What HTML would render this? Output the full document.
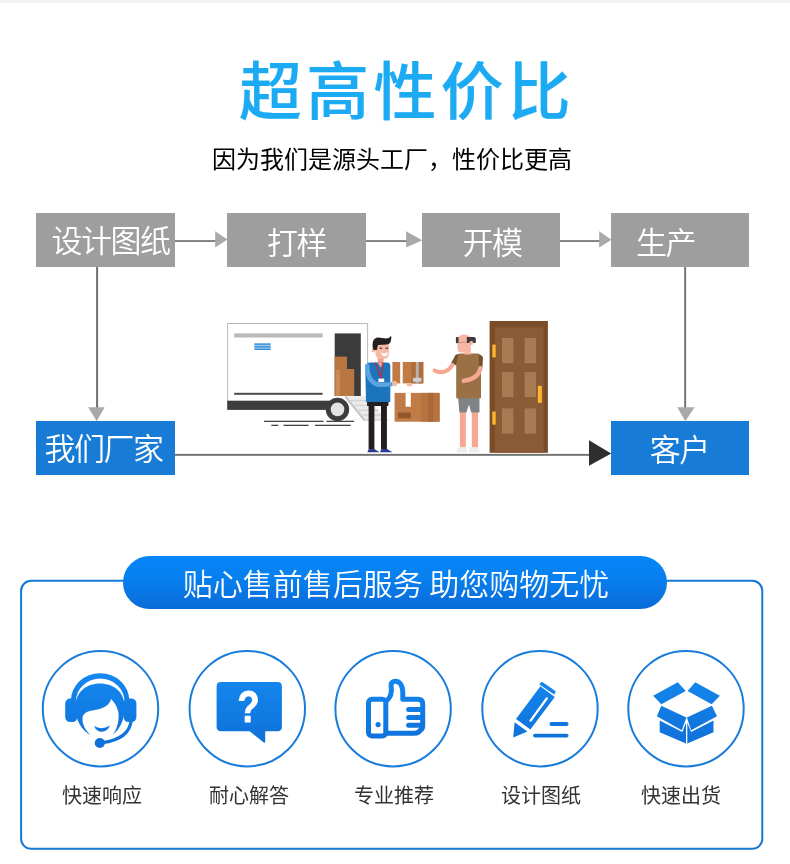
<!DOCTYPE html>
<html lang="zh-CN">
<head>
<meta charset="utf-8">
<title>超高性价比</title>
<style>
html,body{margin:0;padding:0;background:#fff;}
body{width:790px;height:864px;position:relative;overflow:hidden;font-family:"Liberation Sans","Noto Sans CJK SC",sans-serif;}
.abs{position:absolute;}
#topbar{left:0;top:0;width:790px;height:3px;background:#f3f3f3;}
#gfx{left:0;top:0;width:790px;height:864px;will-change:transform;}
.t{position:absolute;white-space:nowrap;line-height:1;will-change:transform;}
#title{left:238.9px;top:60.5px;font-size:63px;font-weight:500;color:#1cabf3;letter-spacing:4.2px;-webkit-text-stroke:0.2px #1cabf3;}
#sub{left:212.4px;top:148px;font-size:24px;color:#000;}
.fb{position:absolute;height:54px;line-height:54px;color:#fff;font-size:31px;font-weight:350;letter-spacing:-1.5px;text-align:center;white-space:nowrap;will-change:transform;}
.fb span{position:relative;display:inline-block;line-height:54px;}
.g{background:#9e9e9e;}
.b{background:#187bd6;}
#pill{will-change:transform;left:123px;top:556px;width:544px;height:53px;border-radius:27px;background:linear-gradient(#0686f8 0%,#0780f0 40%,#0a6bd8 100%);color:#fff;font-size:30px;font-weight:350;text-align:center;line-height:58px;white-space:nowrap;word-spacing:-2px;box-sizing:border-box;padding-left:2px;}
.lab{will-change:transform;position:absolute;top:785px;width:120px;text-align:center;font-size:20px;color:#333;line-height:22px;white-space:nowrap;}
</style>
</head>
<body>
<div id="topbar" class="abs"></div>
<svg id="gfx" class="abs" width="790" height="864" viewBox="0 0 790 864">
<!-- flow connectors -->
<g id="flow">
<rect x="175" y="240.2" width="41" height="1.7" fill="#707070"/>
<polygon points="215.2,231.3 227.5,239.6 215.2,247.6" fill="#a9a9a9"/>
<rect x="366" y="240.2" width="41" height="1.7" fill="#707070"/>
<polygon points="406.1,231.3 422.3,240.2 406.1,247.6" fill="#a9a9a9"/>
<rect x="560" y="240.2" width="40" height="1.7" fill="#707070"/>
<polygon points="599.2,231.3 611.4,239.8 599.2,247.6" fill="#a9a9a9"/>
<rect x="96.1" y="267" width="2" height="141" fill="#707070"/>
<polygon points="88.2,407.3 104.6,407.3 96.7,421.2" fill="#a9a9a9"/>
<rect x="684.2" y="267" width="1.9" height="141" fill="#707070"/>
<polygon points="677.3,407.3 694.6,407.3 685.3,421.2" fill="#a9a9a9"/>
<rect x="175" y="453.9" width="415" height="1.9" fill="#707070"/>
<polygon points="589,440.3 611.2,453.6 589,465.7" fill="#2e2e2e"/>
</g>

<!-- illustration -->
<g id="ill">
<!-- ground lines -->
<g fill="#454545">
<rect x="264" y="420.7" width="59.6" height="1.3"/><rect x="326.4" y="420.7" width="27.8" height="1.3"/>
<rect x="271.3" y="424.7" width="7" height="1.3"/><rect x="283.5" y="424.7" width="25.1" height="1.3"/><rect x="314.9" y="424.7" width="35.8" height="1.3"/>
</g>
<!-- ramp -->
<!-- truck -->
<path d="M227.6,401 V323.5 H367.6 V396.2" fill="#fff" stroke="#a4a4a4" stroke-width="0.8"/>
<rect x="234.2" y="333.4" width="88.4" height="4.1" fill="#b9b9b9"/>
<rect x="254.4" y="343.4" width="16.2" height="6.6" fill="#9fcbee"/>
<path d="M254.4,344.2 H270.6 M254.4,346.8 H270.6 M254.4,349.4 H270.6" stroke="#2f8cd8" stroke-width="1.2" fill="none"/>
<rect x="234.2" y="392.8" width="88.4" height="2" fill="#4a4a4a"/>
<rect x="334.7" y="333.4" width="26.1" height="62.6" fill="#3b3b3b"/>
<rect x="334.7" y="356.6" width="12.3" height="39.4" fill="#b97641"/>
<rect x="347" y="369" width="7.2" height="27" fill="#b97641"/>
<rect x="335.8" y="370" width="4.2" height="26" fill="#c98a56"/>
<polygon points="344.6,396.2 365.6,396.2 388,420.8 364,420.8" fill="#ebebeb"/>
<path d="M345.2,396.4 L364.6,420.2" stroke="#c6c6c6" stroke-width="2.2" fill="none"/>
<path d="M350,400.6 H369.6 M354.6,405.4 H374 M359,410.2 H378.4 M363,415 H382.8 M364,420 H388" stroke="#d4d4d4" stroke-width="1.4" fill="none"/>
<rect x="227.2" y="400.7" width="106" height="9.2" fill="#3d3d3d"/>
<circle cx="337.5" cy="409.4" r="11.7" fill="#3d3d3d"/>
<circle cx="337.5" cy="409.4" r="6.8" fill="#e3e3e3"/>
<!-- boxes -->
<rect x="392.4" y="362" width="7.8" height="21.4" fill="#c07b46"/>
<rect x="402.7" y="362" width="20.6" height="21.4" fill="#c07b46"/>
<rect x="411.3" y="362" width="12" height="21.4" fill="#b06d3a"/>
<rect x="415.8" y="362" width="2.9" height="21.4" fill="#b4b4b4"/>
<rect x="413" y="377.8" width="8.5" height="4" fill="#cfcfcf"/>
<rect x="394.6" y="392.9" width="45" height="28.8" fill="#c07b46"/>
<rect x="421" y="392.9" width="18.6" height="28.8" fill="#b87240"/>
<rect x="428.3" y="392.9" width="4.8" height="28.8" fill="#a9683a"/>
<rect x="405.6" y="392.9" width="5.2" height="13.8" fill="#fff"/>
<rect x="398" y="412.6" width="12.8" height="5.7" fill="#91582b"/>
<!-- delivery man -->
<rect x="368.6" y="403" width="5.8" height="46.5" fill="#231f20"/>
<rect x="381" y="403" width="5.9" height="46.5" fill="#231f20"/>
<rect x="367" y="401.5" width="21.5" height="4.5" rx="1" fill="#231f20"/>
<path d="M367.6,452.3 Q367.6,449 371,449 H374.4 L379.5,452.3 Z" fill="#2b3990"/>
<path d="M380.2,452.3 Q380.2,449 383.6,449 H387 L392.5,452.3 Z" fill="#2b3990"/>
<rect x="377.6" y="354" width="6" height="10" fill="#f0a590"/>
<path d="M365.3,368 Q365.3,362.5 371,362.5 H387 Q390.3,362.5 390.3,366 V402.1 H366 Z" fill="#1c75bc"/>
<path d="M377.4,362.5 L380.6,367.5 L383.8,362.5 Z" fill="#f0a590"/>
<path d="M375.2,362.6 L381,378.4 L383,362.6" stroke="#d0232e" stroke-width="1.2" fill="none"/>
<path d="M367.2,366 C367.2,377 372,384.8 380.5,384.8 L391,384.2" stroke="#5ba4e0" stroke-width="4.6" fill="none" stroke-linecap="round"/>
<rect x="378.4" y="378.6" width="5.8" height="3.4" fill="#fff"/>

<circle cx="394.6" cy="383.6" r="2.6" fill="#f6b9a5"/>
<ellipse cx="409.5" cy="385" rx="3" ry="1.4" fill="#f6b9a5"/>
<circle cx="373.4" cy="350.6" r="1.9" fill="#f6b9a5"/>
<path d="M375.4,343 H389 V352.5 Q389,358.8 384,358.8 H381 Q375.4,358.8 375.4,353 Z" fill="#f6b9a5"/>
<path d="M373,349.8 Q371,338 378,337.6 L386,338.6 Q389.4,338.6 391.2,335.8 Q392,343.8 387,344.6 L378,345 L376.8,350 Z" fill="#231f20"/>
<path d="M379.6,348.2 H382.2 M385.4,348.2 H388" stroke="#231f20" stroke-width="1" fill="none"/>
<path d="M381.2,352.8 Q384.6,354 388,352.2 Q387,356.6 384.4,356.6 Q382.2,356.6 381.2,352.8 Z" fill="#fff"/>
<!-- customer -->
<rect x="459.9" y="410" width="5.9" height="37.5" fill="#f7a792"/>
<rect x="471.8" y="410" width="6.3" height="37.5" fill="#f7a792"/>
<path d="M456.4,452.6 Q456.4,447.3 461,447.3 H466.8 V452.6 Z" fill="#ededed"/>
<path d="M469.4,452.6 V447.3 H475 Q480.2,447.3 480.2,452.6 Z" fill="#ededed"/>
<path d="M458.1,398 H479.5 V412.4 H471.2 L469,404.5 L466.4,412.4 H459.4 Z" fill="#808285"/>
<path d="M456.2,358 Q456.2,353.6 460.8,353.6 H477 Q481,353.6 481,358 V398.3 H456.2 Z" fill="#9b7044"/>
<path d="M451.2,363 L455.4,355.2 Q456.4,354 458.2,354.4 L456.2,365.4 Z" fill="#74502c"/>
<path d="M478.8,354.8 Q482.6,355.2 483,358 L482.4,367.4 L478.8,366.6 Z" fill="#74502c"/>
<path d="M452.4,365 C448.6,371 442.6,374.2 434.6,370.6" stroke="#f6a893" stroke-width="4.2" fill="none" stroke-linecap="round"/>
<path d="M480.6,368 C479,375.6 472.6,379.8 463.6,380.8" stroke="#f6a893" stroke-width="4.2" fill="none" stroke-linecap="round"/>
<path d="M457.6,341 Q457.6,334.6 464.2,334.6 Q470.8,334.6 470.8,341 V354.4 H464.4 V352.4 H461 Q457.6,352.4 457.6,349 Z" fill="#f8b6a5"/>
<rect x="455.9" y="337" width="2.7" height="6.2" rx="1" fill="#3f3b3b"/>
<path d="M466.8,337 H474 Q475.8,337 475.8,339 V343 H466.8 Z" fill="#3f3b3b"/>
<circle cx="471.3" cy="343" r="2.1" fill="#f8b6a5"/>
<path d="M458.4,342.4 H466.4" stroke="#c48a7c" stroke-width="0.8" fill="none"/>
<!-- door -->
<rect x="489.6" y="321" width="58.3" height="131.8" fill="#7a4c27"/>
<rect x="494.8" y="327.4" width="48.9" height="125.4" fill="#8b5a36"/>
<g fill="#a87c53">
<rect x="502" y="338" width="11.4" height="25.2"/><rect x="524.6" y="338" width="11.4" height="25.2"/>
<rect x="502" y="372" width="11.4" height="25.2"/><rect x="524.6" y="372" width="11.4" height="25.2"/>
<rect x="502" y="408.4" width="11.4" height="25.3"/><rect x="524.6" y="408.4" width="11.4" height="25.3"/>
</g>
<g fill="#fbb52f">
<rect x="492.3" y="344.6" width="3.4" height="13" rx="0.8"/>
<rect x="492.3" y="411.4" width="3.4" height="13.4" rx="0.8"/>
<rect x="537.8" y="385.8" width="4.1" height="17.2" rx="0.8"/>
</g>
</g>
<!-- panel -->
<rect x="21.1" y="580.8" width="741.2" height="268" rx="10" ry="10" fill="none" stroke="#1478d6" stroke-width="2"/>
<g fill="none" stroke="#187cdb" stroke-width="2">
<circle cx="100.5" cy="708.7" r="57.7"/>
<circle cx="247.3" cy="708.7" r="57.7"/>
<circle cx="393.1" cy="708.7" r="57.7"/>
<circle cx="540" cy="708.7" r="57.7"/>
<circle cx="686" cy="708.7" r="57.7"/>
</g>

<defs>
<linearGradient id="ig" gradientUnits="userSpaceOnUse" x1="0" y1="672" x2="0" y2="746">
<stop offset="0" stop-color="#1389f0"/><stop offset="1" stop-color="#0f70d8"/>
</linearGradient>
</defs>
<!-- icon 1: headset -->
<g id="ic1" fill="url(#ig)">
<path d="M70.8,701 A29.3,27.8 0 0 1 129.4,701 L124.4,701 A24.2,22.4 0 0 0 76,701 Z"/>
<rect x="65.2" y="698.5" width="12.2" height="23.6" rx="5" ry="5"/>
<rect x="123.6" y="698.5" width="12.8" height="23.6" rx="5" ry="5"/>
<path d="M75.5,707 C75.5,692 86,683.4 100,683.4 C114,683.4 124.6,692 124.6,707 C124.6,720 120,729 113,734.6 C117.5,728 119.5,720 118.3,712 C117,706 114,701.5 111,699 C110,704.5 104,708.5 96,709.8 C89,710.8 83.5,712.5 82.5,717.5 C82,724 85,730 90.5,735 C81,730 75.5,720 75.5,707 Z"/>
<path d="M94,726 Q101.5,730.5 110,725.6 Q107.5,731.8 101.5,731.8 Q96.5,731.8 94,726 Z"/>
<circle cx="99.8" cy="743" r="5.1"/>
<path d="M131.3,720 C130,733 119,740.5 102,742.6" fill="none" stroke="url(#ig)" stroke-width="3.2" stroke-linecap="round"/>
</g>
<!-- icon 2: question bubble -->
<g id="ic2">
<path fill="url(#ig)" d="M221,681.9 H277.5 Q281.9,681.9 281.9,686.3 V726.8 Q281.9,731.2 277.5,731.2 H265.2 V741.5 Q265.2,743.4 263.4,742.3 L249.6,731.2 H221 Q216.6,731.2 216.6,726.8 V686.3 Q216.6,681.9 221,681.9 Z"/>
<text transform="translate(248.3,722.4) scale(0.87,1.06)" x="0" y="0" text-anchor="middle" font-family="'Liberation Sans',sans-serif" font-weight="bold" font-size="42" fill="#fff" stroke="#fff" stroke-width="0.8" stroke-linejoin="round">?</text>
</g>
<!-- icon 3: thumbs up -->
<g id="ic3" fill="none" stroke="url(#ig)" stroke-width="5" stroke-linejoin="round" stroke-linecap="round">
<rect x="368.5" y="699.3" width="17.3" height="36.6" rx="3.5" ry="3.5"/>
<path d="M386.5,701 C391,697 392,692 391.2,687 C390.5,682 393,681.3 395.5,681.3 C400,681.3 402.8,686 402.8,692 L402.8,699.3 L418,699.3 Q422.7,699.3 422.7,704 L422.7,726 Q422.7,729 420,730.5 Q418.5,733.2 414.5,733.2 L386.5,733.2"/>
<path d="M408.6,709.4 H420.5 M408.6,717.5 H420.5 M408.6,725.3 H420"/>
</g>
<circle cx="378.1" cy="724.6" r="2.6" fill="url(#ig)"/>
<!-- icon 4: pencil -->
<g id="ic4" fill="url(#ig)">
<polygon points="513.2,737.6 514.6,722.2 527.4,731.6"/>
<polygon points="516,718.9 540.4,686.2 554.8,696.9 530.4,729.5"/>
<path d="M539.5,684.4 L540.7,682.6 Q541.5,681.4 542.7,682.2 L555.0,690.8 Q556.1,691.6 555.3,692.7 L554.1,694.5 Z"/>
<path d="M530.6,720.6 L546.8,698.4" stroke="#fff" stroke-width="2.4" stroke-linecap="round" fill="none"/>
<path d="M551.4,724 H566.6 M535,735.6 H566.6" stroke="url(#ig)" stroke-width="3.9" stroke-linecap="round" fill="none"/>
</g>
<!-- icon 5: open box -->
<g id="ic5" fill="url(#ig)">
<polygon points="653.1,695.7 677.8,682.2 685.7,691 661.3,704.3"/>
<polygon points="687.6,691 695.2,682.2 719.9,695.7 711.7,704.3"/>
<polygon points="661.3,705.8 656.9,716.3 681.8,730.3 686.4,717.6"/>
<polygon points="711.9,705.8 717,716.3 691.1,730.3 686.9,717.6"/>
<polygon points="659.7,720.5 659.7,732.2 686,743.6 686,722.8 682.4,731.9"/>
<polygon points="687.3,722.8 687.3,743.6 713.5,732.2 713.5,720.5 691.1,731.9"/>
</g>
</svg>
<div id="title" class="t">超高性价比</div>
<div id="sub" class="t">因为我们是源头工厂，性价比更高</div>
<div class="fb g" style="left:36px;top:213px;width:139px;"><span style="left:5px;top:2px;">设计图纸</span></div>
<div class="fb g" style="left:227px;top:213px;width:139px;"><span style="left:0px;top:3.5px;">打样</span></div>
<div class="fb g" style="left:422px;top:213px;width:138px;"><span style="left:1px;top:3.5px;">开模</span></div>
<div class="fb g" style="left:611px;top:213px;width:138px;"><span style="left:-14.5px;top:3.5px;">生产</span></div>
<div class="fb b" style="left:36px;top:421px;width:139px;"><span style="left:-2px;top:2px;">我们厂家</span></div>
<div class="fb b" style="left:611px;top:421px;width:138px;"><span style="left:-0.7px;top:2.5px;">客户</span></div>
<div id="pill" class="abs">贴心售前售后服务 助您购物无忧</div>
<div class="lab" style="left:42px;">快速响应</div>
<div class="lab" style="left:189px;">耐心解答</div>
<div class="lab" style="left:333.5px;">专业推荐</div>
<div class="lab" style="left:481px;">设计图纸</div>
<div class="lab" style="left:621px;">快速出货</div>
</body>
</html>
